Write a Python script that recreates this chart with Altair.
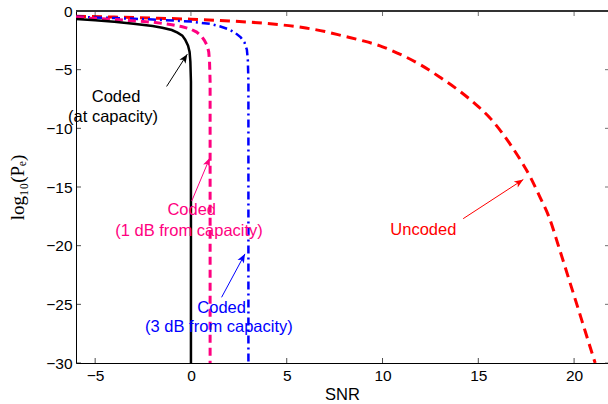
import math
import altair as alt
import pandas as pd

# ---- data ----
cap_x = [-6, -5, -4, -3, -2, -1.5, -1, -0.7, -0.45, -0.3, -0.15, -0.07, -0.03, 0, 0]
cap_y = [-0.68, -0.78, -0.92, -1.08, -1.28, -1.42, -1.62, -1.85, -2.1, -2.45, -2.95, -3.5, -4.3, -6, -30]

db1_x = [-6, -4, -2, -1, -0.5, 0, 0.3, 0.55, 0.7, 0.85, 0.93, 0.97, 1, 1]
db1_y = [-0.55, -0.72, -0.95, -1.17, -1.32, -1.55, -1.8, -2.15, -2.5, -2.95, -3.5, -4.3, -6, -30]

db3_x = [-6, -4, -2, 0, 1, 1.5, 2, 2.3, 2.6, 2.8, 2.92, 2.97, 3, 3]
db3_y = [-0.5, -0.6, -0.72, -0.9, -1.1, -1.3, -1.58, -1.85, -2.25, -2.7, -3.3, -4.2, -6, -30]

unc_x = [-6, -4, -2, 0, 2, 4, 6, 7, 8, 9, 10, 11, 12, 13, 14, 15, 15.6, 16.6, 17.2, 17.7,
         18.2, 18.7, 19.2, 19.7, 20.2, 20.6, 21.1]
unc_y = [-0.45, -0.52, -0.6, -0.7, -0.85, -1.07, -1.45, -1.75, -2.15, -2.55, -3.05, -3.75, -4.6,
         -5.65, -6.8, -8.15, -9.1, -11.2, -12.7, -14.1, -15.8, -17.6, -20.1, -22.7, -25.3, -27.4, -30]

x_ticks = [-5, 0, 5, 10, 15, 20]
y_ticks = [0, -5, -10, -15, -20, -25, -30]

# annotations (data coordinates)
arrow_tail_x = [-1.27, 0.04, 1.6, 14.21]
arrow_tail_y = [-6.43, -16.2, -24.4, -17.7]
arrow_head_x = [-0.19, 0.99, 2.82, 17.35]
arrow_head_y = [-3.68, -12.5, -20.7, -14.36]
arrow_color = ["#000000", "#ff0080", "#0000ff", "#ff0000"]

label_text = ["Coded", "(at capacity)", "Coded", "(1 dB from capacity)",
              "Coded", "(3 dB from capacity)", "Uncoded"]
label_x = [-3.91, -4.07, 0.04, -0.1, 1.6, 1.46, 12.13]
label_y = [-7.37, -9.0, -16.99, -18.78, -25.3, -26.96, -18.67]
label_color = ["#000000", "#000000", "#ff0080", "#ff0080", "#0000ff", "#0000ff", "#ff0000"]

# ---- layout ----
W, H = 532, 352
XDOM = [-6, 21.77]
YDOM = [-30, 0]
pxx = W / (XDOM[1] - XDOM[0])
pxy = H / (YDOM[1] - YDOM[0])

xs = alt.Scale(domain=XDOM, nice=False, zero=False)
ys = alt.Scale(domain=YDOM, nice=False, zero=False)

def series(xv, yv):
    return pd.DataFrame({"x": xv, "y": yv, "i": range(len(xv))})

FONT = "Liberation Sans"

xaxis = alt.Axis(values=x_ticks, tickSize=0, grid=False, domainColor="#000000", domainWidth=1,
                 labelFont=FONT, labelFontSize=15.5, labelColor="#000000", labelPadding=5,
                 title="SNR", titleFont=FONT, titleFontSize=16.5, titleFontWeight="normal",
                 titleColor="#000000", titlePadding=3)
yaxis = alt.Axis(values=y_ticks, tickSize=0, grid=False, domainColor="#000000", domainWidth=1,
                 labelFont=FONT, labelFontSize=15.5, labelColor="#000000", labelPadding=4,
                 title="log₁₀(Pₑ)", titleFont="Liberation Serif, DejaVu Serif", titleFontSize=19,
                 titleFontWeight="normal", titleColor="#000000", titleX=-59, titleY=176,
                 titleAlign="center", titleBaseline="middle", titleAngle=270)

def line(df, color, dash, width, interp="linear"):
    kw = dict(color=color, strokeWidth=width, clip=True, interpolate=interp)
    if dash:
        kw["strokeDash"] = dash
    return alt.Chart(df).mark_line(**kw).encode(
        x=alt.X("x:Q", scale=xs, axis=xaxis),
        y=alt.Y("y:Q", scale=ys, axis=yaxis),
        order=alt.Order("i:Q"),
    )

l_unc = line(series(unc_x, unc_y), "#ff0000", [10, 6], 3, "monotone")
l_db3 = line(series(db3_x, db3_y), "#0000ff", [8, 4, 2, 4], 2.5)
l_db1 = line(series(db1_x, db1_y), "#ff0080", [8, 5], 3)
l_cap = line(series(cap_x, cap_y), "#000000", None, 2.5)

adf = pd.DataFrame({"x": arrow_tail_x, "y": arrow_tail_y, "x2": arrow_head_x, "y2": arrow_head_y,
                    "c": arrow_color})
adf["ang"] = [(math.degrees(math.atan2((hx - tx) * pxx, (hy - ty) * pxy)) + 360) % 360
              for tx, ty, hx, hy in zip(arrow_tail_x, arrow_tail_y, arrow_head_x, arrow_head_y)]

arrow_lines = alt.Chart(adf).mark_rule(strokeWidth=1).encode(
    x=alt.X("x:Q", scale=xs), y=alt.Y("y:Q", scale=ys),
    x2="x2:Q", y2="y2:Q", color=alt.Color("c:N", scale=None))
arrow_heads = alt.Chart(adf).mark_point(
    shape="M0,0 L-0.4,1 L0,0.75 L0.4,1 Z", filled=True, size=324, opacity=1, strokeWidth=0
).encode(x=alt.X("x2:Q", scale=xs), y=alt.Y("y2:Q", scale=ys),
         color=alt.Color("c:N", scale=None), angle=alt.Angle("ang:Q", scale=None))

tdf = pd.DataFrame({"t": label_text, "x": label_x, "y": label_y, "c": label_color})
texts = alt.Chart(tdf).mark_text(font=FONT, fontSize=16.5, align="center", baseline="middle").encode(
    x=alt.X("x:Q", scale=xs), y=alt.Y("y:Q", scale=ys), text="t:N",
    color=alt.Color("c:N", scale=None))

xt = pd.DataFrame({"v": x_ticks})
yt = pd.DataFrame({"v": y_ticks})
tick_b = alt.Chart(xt).mark_tick(orient="vertical", size=5, thickness=1, color="#000000").encode(
    x=alt.X("v:Q", scale=xs), y=alt.value(H - 2.5))
tick_t = alt.Chart(xt).mark_tick(orient="vertical", size=5, thickness=1, color="#333333").encode(
    x=alt.X("v:Q", scale=xs), y=alt.value(2.5))
tick_l = alt.Chart(yt).mark_tick(orient="horizontal", size=5, thickness=1, color="#000000").encode(
    y=alt.Y("v:Q", scale=ys), x=alt.value(2.5))
tick_r = alt.Chart(yt).mark_tick(orient="horizontal", size=3, thickness=1, color="#333333").encode(
    y=alt.Y("v:Q", scale=ys), x=alt.value(W - 1.5))
top_border = alt.Chart(xt).mark_rule(color="#333333", strokeWidth=1.5).encode(
    x=alt.value(0), x2=alt.value(W), y=alt.value(0))

chart = alt.layer(
    l_unc, l_db3, l_db1, l_cap, arrow_lines, arrow_heads, texts,
    tick_b, tick_t, tick_l, tick_r, top_border
).properties(
    width=W, height=H,
    padding={"left": 76, "top": 11, "right": 0, "bottom": 41},
    autosize=alt.AutoSizeParams(type="none"),
    background="#ffffff",
).configure_view(stroke=None)

chart.save("out.html", embed_options={"renderer": "svg", "actions": False})
